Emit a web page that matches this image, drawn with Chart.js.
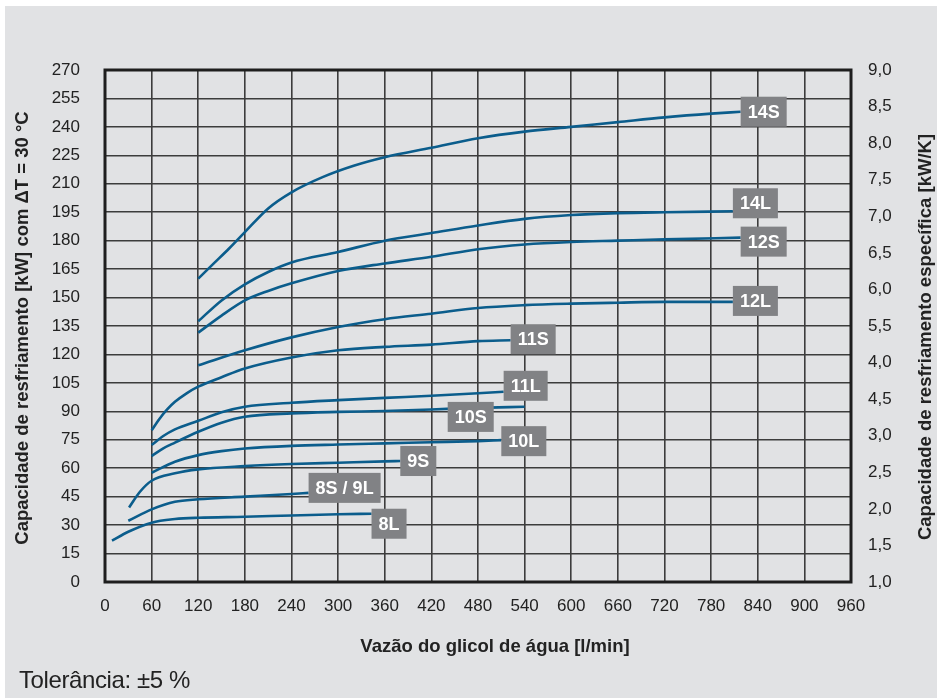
<!DOCTYPE html>
<html>
<head>
<meta charset="utf-8">
<script src="https://cdn.jsdelivr.net/npm/chart.js@4/dist/chart.umd.min.js"></script>
<style>
body { margin: 0; background: #fff; }
#wrap { position: relative; width: 937px; height: 698px; }
#note { position: absolute; left: 19px; top: 668px; font: 24px/1 "Liberation Sans", Arial, sans-serif; color: #222; letter-spacing: -0.4px; }
</style>
</head>
<body>
<div id="wrap">
  <canvas id="chart" width="937" height="698"></canvas>
  <div id="note">Tolerância: ±5 %</div>
</div>
<script>
// curves: [vazão l/min, capacidade kW]
const c14S = [[120,160],[140,168],[160,176],[180,184.5],[210,197],[240,205.5],[280,213.5],[320,219.5],[360,224],[420,229],[480,234],[540,237.5],[600,240],[660,242.5],[720,245],[780,247],[818,248]];
const c14L = [[120,137.5],[150,148.5],[180,157],[210,163.5],[240,168.5],[300,174],[360,180],[420,184],[480,188],[540,191.5],[600,193.5],[660,194.5],[720,195],[808,195.5]];
const c12S = [[120,131.5],[150,140.5],[180,148.5],[210,153.5],[240,157.5],[300,164],[360,168],[420,171.5],[480,175.5],[540,178],[600,179.3],[660,180],[720,180.7],[818,181.6]];
const c12L = [[120,114.3],[180,122.2],[240,129],[300,134.5],[360,138.6],[420,141.5],[480,144.5],[540,146],[600,146.8],[660,147.3],[720,147.7],[808,147.7]];
const c11S = [[60,80],[70,86],[80,91],[90,95],[105,99.5],[120,103],[150,108],[180,112.6],[240,118.4],[300,122.2],[360,124],[420,125.2],[480,127],[522,127.5]];
const c11L = [[60,72.2],[75,77],[90,80.5],[120,85],[150,89.5],[180,92.4],[240,94.5],[300,95.9],[360,97.1],[420,98.2],[480,99.5],[513,100.3]];
const c10S = [[60,66.4],[75,70.5],[90,73.5],[120,79.2],[150,84],[180,87.1],[240,88.9],[300,89.7],[360,90.2],[420,91],[480,91.8],[540,92.4]];
const c10L = [[60,57.6],[90,63.4],[120,66.9],[150,69],[180,70.4],[240,71.8],[300,72.5],[360,73.1],[420,73.7],[480,74.3],[510,74.8]];
const c9S = [[31,39.3],[45,47.6],[60,53.4],[90,57.3],[120,59.4],[180,61.1],[240,62.2],[300,62.9],[360,63.6],[380,63.8]];
const c8S9L = [[30,32.3],[60,38.3],[90,42.3],[120,43.6],[180,45],[240,46.4],[262,47]];
const c8L = [[9,21.8],[30,26.5],[60,31.3],[90,33.2],[120,33.9],[180,34.4],[240,35.1],[300,35.7],[343,36]];

const names = ['14S','14L','12S','12L','11S','11L','10S','10L','9S','8S / 9L','8L'];
const series = [c14S, c14L, c12S, c12L, c11S, c11L, c10S, c10L, c9S, c8S9L, c8L];

// right axis labels as printed on the original
const rightLabels = ['9,0','8,5','8,0','7,5','7,0','6,5','6,0','5,5','4,0','4,5','3,0','2,5','2,0','1,5','1,0'];

const FONT = '"Liberation Sans", Arial, sans-serif';

// label boxes: which curve, vertical nudge in px, optional x where it sits
const tags = [
  { s: 0, dy: 0 }, { s: 1, dy: -8 }, { s: 2, dy: 4 }, { s: 3, dy: -1 },
  { s: 4, dy: -1 }, { s: 5, dy: -6 }, { s: 6, dy: 8, at: 441 }, { s: 7, dy: 1 },
  { s: 8, dy: 0 }, { s: 9, dy: -5 }, { s: 10, dy: 10 }
];

function yAt(pts, x) {
  for (let i = 1; i < pts.length; i++) {
    if (x <= pts[i][0]) {
      const [x0, y0] = pts[i - 1], [x1, y1] = pts[i];
      return y0 + (y1 - y0) * (x - x0) / (x1 - x0);
    }
  }
  return pts[pts.length - 1][1];
}

function vtext(c, txt, x, y) {
  c.save();
  c.translate(x, y);
  c.rotate(-Math.PI / 2);
  c.fillText(txt, 0, 0);
  c.restore();
}

const decor = {
  id: 'decor',
  beforeDraw(chart) {
    const c = chart.ctx;
    c.save();
    c.fillStyle = '#ffffff';
    c.fillRect(0, 0, chart.width, chart.height);
    c.fillStyle = '#e1e2e4';
    c.fillRect(5, 6, chart.width - 5, chart.height - 6);
    c.restore();
  },
  afterDatasetsDraw(chart) {
    const c = chart.ctx, xs = chart.scales.x, ys = chart.scales.y, a = chart.chartArea;
    c.save();
    c.strokeStyle = '#1e1e1e';
    c.lineWidth = 3;
    c.strokeRect(a.left, a.top, a.right - a.left, a.bottom - a.top);

    c.font = 'bold 18px ' + FONT;
    c.textBaseline = 'middle';
    c.textAlign = 'center';
    tags.forEach(t => {
      const pts = series[t.s];
      const x = t.at !== undefined ? t.at : pts[pts.length - 1][0];
      const px = xs.getPixelForValue(x);
      const py = ys.getPixelForValue(yAt(pts, x)) + t.dy;
      const w = c.measureText(names[t.s]).width + 14, h = 30;
      c.fillStyle = '#818285';
      c.fillRect(px, py - h / 2, w, h);
      c.fillStyle = '#ffffff';
      c.fillText(names[t.s], px + w / 2, py + 1);
    });
    c.restore();
  },
  afterDraw(chart) {
    const c = chart.ctx;
    c.save();
    c.fillStyle = '#222';
    c.font = 'bold 18.5px ' + FONT;
    c.textAlign = 'center';
    c.textBaseline = 'middle';
    c.fillText('Vazão do glicol de água [l/min]', 495, 647);
    vtext(c, 'Capacidade de resfriamento [kW] com ΔT = 30 °C', 23, 328);
    vtext(c, 'Capacidade de resfriamento específica [kW/K]', 926, 337);
    c.restore();
  }
};

new Chart(document.getElementById('chart'), {
  type: 'line',
  data: {
    datasets: series.map((pts, i) => ({
      label: names[i],
      data: pts.map(p => ({ x: p[0], y: p[1] })),
      borderColor: '#0b5d8c',
      borderWidth: 2.6,
      pointRadius: 0,
      fill: false,
      cubicInterpolationMode: 'monotone'
    }))
  },
  options: {
    responsive: false,
    animation: false,
    layout: { padding: { left: 5, top: 70, right: 0, bottom: 38 } },
    plugins: { legend: { display: false }, tooltip: { enabled: false } },
    scales: {
      x: {
        type: 'linear', min: 0, max: 960,
        ticks: { stepSize: 60, padding: 14, color: '#222', font: { family: FONT, size: 17 } },
        grid: { color: '#3c3c3c', lineWidth: 1.6, drawTicks: false },
        border: { display: false },
        afterFit(s) { s.height = 78; }
      },
      y: {
        position: 'left', min: 0, max: 270,
        ticks: { stepSize: 15, padding: 25, color: '#222', font: { family: FONT, size: 17 } },
        grid: { color: '#3c3c3c', lineWidth: 1.6, drawTicks: false },
        border: { display: false },
        afterFit(s) { s.width = 100; }
      },
      y2: {
        position: 'right', min: 0, max: 14, reverse: true,
        ticks: { stepSize: 1, padding: 17, color: '#222', font: { family: FONT, size: 17 },
          callback: v => rightLabels[v] },
        grid: { display: false, drawTicks: false },
        border: { display: false },
        afterFit(s) { s.width = 86; }
      }
    }
  },
  plugins: [decor]
});
</script>
</body>
</html>
